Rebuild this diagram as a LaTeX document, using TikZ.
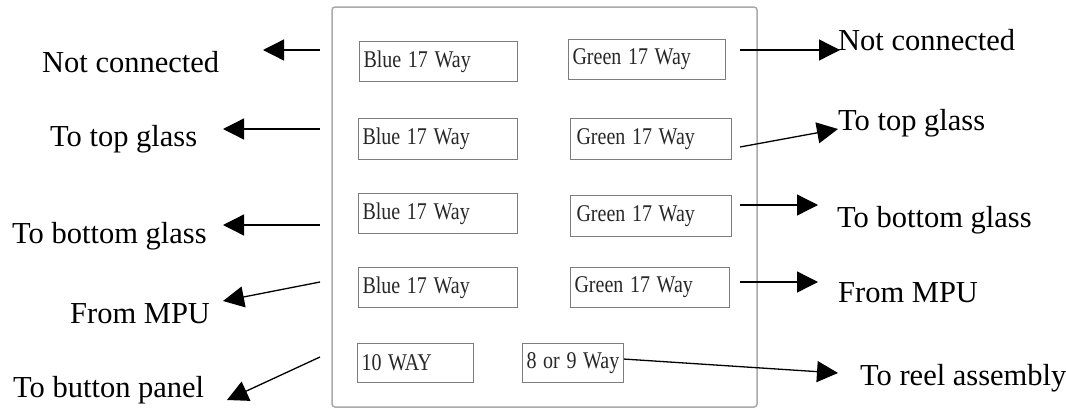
\documentclass[tikz,border=0pt]{standalone}
\usepackage{fontspec}
\setmainfont{Liberation Serif}
\usetikzlibrary{arrows.meta}
\definecolor{boxline}{RGB}{125,125,125}
\definecolor{panelline}{RGB}{170,170,170}
\definecolor{boxtext}{RGB}{40,40,40}
\newcommand\bxt[1]{\scalebox{1}[1.2]{#1}}
\begin{document}
\begin{tikzpicture}[x=1pt,y=-1pt,
  panel/.style={draw=panelline, line width=1.5pt, rounded corners=3pt},
  cbox/.style n args={2}{draw=boxline, line width=1.1pt, inner xsep=4pt, inner ysep=0pt,
     minimum width=#1, text width=#2, align=left, anchor=north west,
     font=\fontsize{20}{24}\selectfont, text=boxtext},
  lab/.style={font=\fontsize{30.5}{36}\selectfont, inner sep=0pt, anchor=base west},
  arr/.style={line width=1.3pt, -{Triangle[length=21pt,width=21pt]}}]
\useasboundingbox (0,0) rectangle (1066,408);
\fill[white] (0,0) rectangle (1066,408);
% panel
\draw[panel] (332,7) rectangle (757,407);
% connector boxes
\node[cbox={158pt}{150pt}, minimum height=40pt] (b1) at (359,41) {\bxt{Blue 17 Way}};
\node[cbox={159pt}{151pt}, minimum height=41pt] (b2) at (358,118) {\bxt{Blue 17 Way}};
\node[cbox={159pt}{151pt}, minimum height=40pt] (b3) at (358,193) {\bxt{Blue 17 Way}};
\node[cbox={159pt}{151pt}, minimum height=40pt] (b4) at (358,267) {\bxt{Blue 17 Way}};
\node[cbox={116pt}{108pt}, minimum height=39pt] (t10) at (357,343) {\bxt{10 WAY}};
\node[cbox={157pt}{149pt}, minimum height=40pt] (g1) at (568,39) {\bxt{Green 17 Way}};
\node[cbox={159pt}{149pt}, minimum height=41pt, inner xsep=6pt] (g2) at (570,118) {\bxt{Green 17 Way}};
\node[cbox={159pt}{149pt}, minimum height=41pt, inner xsep=6pt] (g3) at (570,195) {\bxt{Green 17 Way}};
\node[cbox={159pt}{151pt}, minimum height=40pt] (g4) at (570,267) {\bxt{Green 17 Way}};
\node[cbox={101pt}{93pt}, minimum height=39pt] (n9) at (522,343) {\bxt{8 or 9 Way}};
% labels left
\node[lab] (l1) at (42,72) {Not connected};
\node[lab] (l2) at (50,146) {To top glass};
\node[lab] (l3) at (12,243) {To bottom glass};
\node[lab] (l4) at (70,323) {From MPU};
\node[lab] (l5) at (13,397) {To button panel};
% labels right
\node[lab] (r1) at (838,50) {Not connected};
\node[lab] (r2) at (838,130) {To top glass};
\node[lab] (r3) at (837,227) {To bottom glass};
\node[lab] (r4) at (838,302) {From MPU};
\node[lab] (r5) at (860,385) {To reel assembly};
% connector end points
\coordinate (a1s) at (320,50);  \coordinate (a1e) at (263,50);
\coordinate (a2s) at (320,129); \coordinate (a2e) at (223,129);
\coordinate (a3s) at (320,225); \coordinate (a3e) at (223,225);
\coordinate (a4s) at (320,282); \coordinate (a4e) at (223,301);
\coordinate (a5s) at (320,357); \coordinate (a5e) at (227,400);
\coordinate (c1s) at (740,50);  \coordinate (c1e) at (840,50);
\coordinate (c2s) at (740,147); \coordinate (c2e) at (838,129);
\coordinate (c3s) at (740,205); \coordinate (c3e) at (818,205);
\coordinate (c4s) at (740,282); \coordinate (c4e) at (818,282);
\coordinate (c5e) at (838,373);
% arrows
\draw[arr] (a1s) -- (a1e);
\draw[arr] (a2s) -- (a2e);
\draw[arr] (a3s) -- (a3e);
\draw[arr] (a4s) -- (a4e);
\draw[arr] (a5s) -- (a5e);
\draw[arr] (c1s) -- (c1e);
\draw[arr] (c2s) -- (c2e);
\draw[arr] (c3s) -- (c3e);
\draw[arr] (c4s) -- (c4e);
\draw[arr] ([yshift=4pt]n9.east) -- (c5e);
\end{tikzpicture}
\end{document}
